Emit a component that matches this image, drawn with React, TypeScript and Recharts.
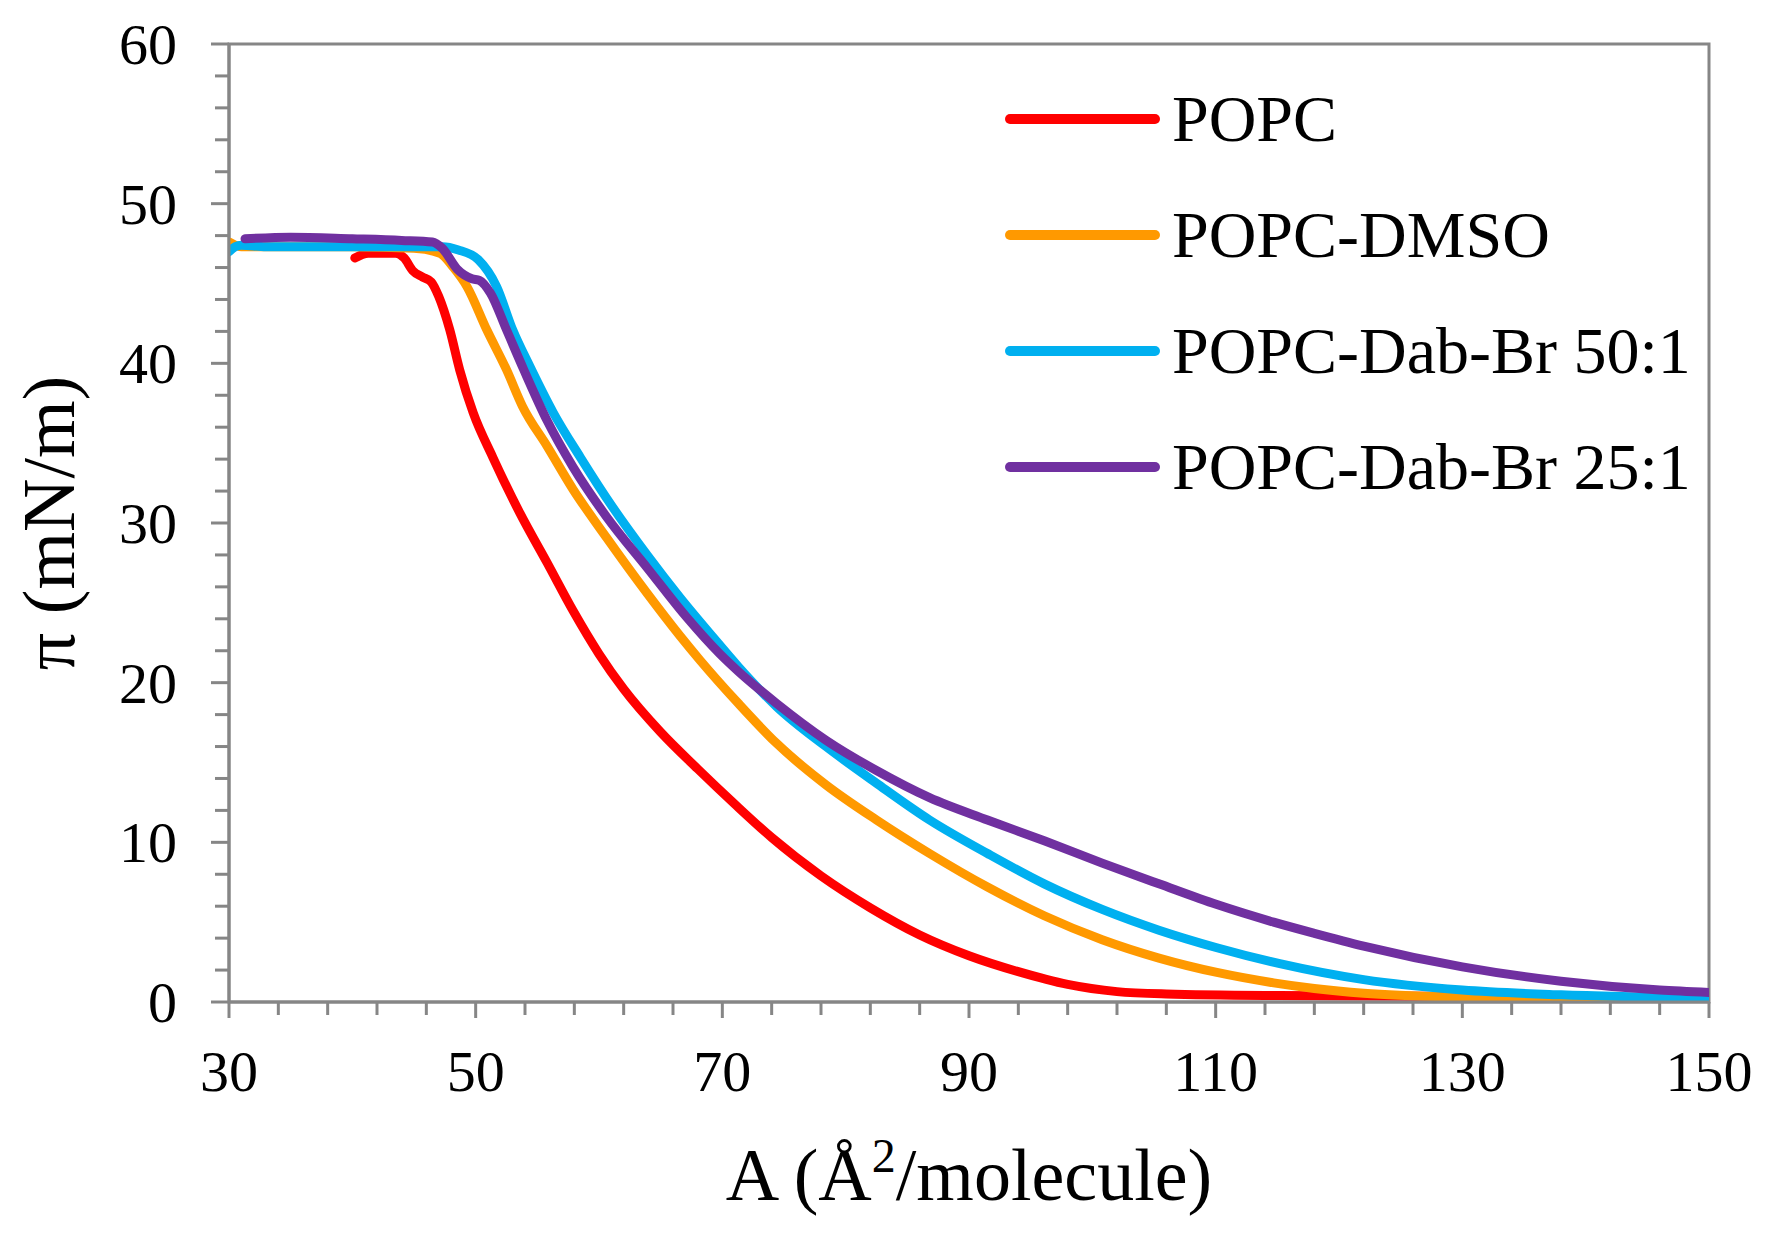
import React from 'react';
import { LineChart, Line, XAxis, YAxis, Legend, ReferenceArea, Label } from 'recharts';

// ---- data ----
const popcA = [40.2, 41.3, 43.5, 44.2, 44.9, 45.7, 46.4, 47.0, 47.9, 48.7, 49.8, 51.4, 53.6, 55.8, 57.9, 60.0, 62.0, 65.0, 68.0, 71.0, 74.0, 78.0, 82.0, 86.0, 90.0, 94.0, 98.0, 102.0, 106.0, 115.0, 130.0, 150.0];
const popcPi = [46.6, 46.9, 46.9, 46.6, 45.8, 45.4, 45.1, 44.2, 42.1, 39.6, 36.9, 34.1, 30.6, 27.5, 24.5, 21.8, 19.6, 16.9, 14.6, 12.4, 10.3, 7.9, 5.9, 4.2, 2.9, 1.9, 1.1, 0.65, 0.5, 0.4, 0.35, 0.25];

const dmsoA = [30.0, 31.0, 35.0, 40.0, 45.0, 47.1, 48.2, 49.3, 50.9, 52.5, 53.8, 55.8, 57.9, 60.6, 63.9, 66.6, 68.2, 71.3, 74.4, 78.4, 82.5, 86.8, 91.5, 96.1, 100.8, 105.4, 110.1, 114.7, 118.0, 122.0, 130.0, 140.0, 150.0];
const dmsoPi = [47.6, 47.3, 47.3, 47.3, 47.2, 46.9, 46.0, 44.8, 42.1, 39.6, 37.3, 34.8, 32.1, 29.1, 25.6, 22.9, 21.4, 18.7, 16.2, 13.6, 11.4, 9.3, 7.2, 5.4, 3.9, 2.75, 1.85, 1.2, 0.85, 0.55, 0.3, 0.2, 0.15];

const dab50A = [30.0, 30.5, 31.0, 33.0, 40.0, 45.0, 47.3, 48.6, 50.2, 51.7, 53.0, 54.4, 56.3, 58.5, 61.1, 63.9, 66.6, 69.3, 71.3, 74.4, 78.4, 82.5, 86.8, 91.5, 96.1, 100.8, 105.4, 110.1, 115.2, 122.0, 130.0, 138.0, 145.0, 150.0];
const dab50Pi = [47.0, 47.3, 47.4, 47.3, 47.3, 47.3, 47.3, 47.1, 46.5, 44.8, 42.1, 39.8, 36.9, 34.1, 31.0, 28.0, 25.3, 22.8, 21.0, 18.5, 16.0, 13.7, 11.4, 9.3, 7.4, 5.8, 4.5, 3.4, 2.4, 1.4, 0.75, 0.45, 0.3, 0.2];

const dab25A = [31.3, 35.0, 40.0, 44.0, 46.5, 47.3, 48.5, 49.7, 50.3, 51.2, 52.5, 53.9, 55.8, 57.9, 60.6, 63.9, 67.1, 69.8, 71.3, 74.4, 78.4, 82.5, 86.8, 91.5, 96.1, 100.8, 105.4, 110.1, 114.7, 118.0, 122.0, 130.0, 138.0, 146.0, 150.0];
const dab25Pi = [47.8, 47.9, 47.8, 47.7, 47.6, 47.2, 45.9, 45.3, 45.2, 44.4, 42.1, 39.6, 36.4, 33.5, 30.4, 27.2, 24.1, 21.8, 20.7, 18.7, 16.4, 14.5, 12.8, 11.4, 10.1, 8.7, 7.4, 6.1, 5.0, 4.3, 3.5, 2.2, 1.3, 0.75, 0.6];

const seriesNames = ['POPC', 'POPC-DMSO', 'POPC-Dab-Br 50:1', 'POPC-Dab-Br 25:1'];
const seriesColors = ['#FF0000', '#FF9900', '#00B0F0', '#7030A0'];

const xTicks = [30, 34, 38, 42, 46, 50, 54, 58, 62, 66, 70, 74, 78, 82, 86, 90, 94, 98, 102, 106, 110, 114, 118, 122, 126, 130, 134, 138, 142, 146, 150];
const xLabelTicks = [30, 50, 70, 90, 110, 130, 150];
const yTicks = [0, 2, 4, 6, 8, 10, 12, 14, 16, 18, 20, 22, 24, 26, 28, 30, 32, 34, 36, 38, 40, 42, 44, 46, 48, 50, 52, 54, 56, 58, 60];
const yLabelTicks = [0, 10, 20, 30, 40, 50, 60];

const toRows = (xs: number[], ys: number[]) => xs.map((a, i) => ({ a, p: ys[i] }));
const seriesData = [toRows(popcA, popcPi), toRows(dmsoA, dmsoPi), toRows(dab50A, dab50Pi), toRows(dab25A, dab25Pi)];

const AXIS = '#868686';
const FONT = '"Liberation Serif", "Times New Roman", serif';

const XTick = (props: any) => {
  const { x, y, payload } = props;
  const v = payload.value;
  const major = xLabelTicks.includes(v);
  return (
    <g>
      <line x1={x} x2={x} y1={y} y2={y + (major ? 16 : 13)} stroke={AXIS} strokeWidth={3} />
      {major && (
        <text x={x} y={y + 89} textAnchor="middle" fontSize={58} fontFamily={FONT} fill="#000">
          {v}
        </text>
      )}
    </g>
  );
};

const YTick = (props: any) => {
  const { x, y, payload } = props;
  const v = payload.value;
  const major = yLabelTicks.includes(v);
  return (
    <g>
      <line x1={x - (major ? 18 : 14)} x2={x} y1={y} y2={y} stroke={AXIS} strokeWidth={3} />
      {major && (
        <text x={x - 52} y={y + 20} textAnchor="end" fontSize={58} fontFamily={FONT} fill="#000">
          {v}
        </text>
      )}
    </g>
  );
};

const XTitle = (props: any) => {
  const { viewBox } = props;
  const cx = viewBox.x + viewBox.width / 2;
  const by = viewBox.y + 198;
  return (
    <text x={cx} y={by} textAnchor="middle" fontSize={74} fontFamily={FONT} fill="#000">
      <tspan>A (Å</tspan>
      <tspan fontSize={48} dy={-28}>2</tspan>
      <tspan dy={28}>/molecule)</tspan>
    </text>
  );
};

const YTitle = (props: any) => {
  const { viewBox } = props;
  const cx = viewBox.x + 74;
  const cy = viewBox.y + viewBox.height / 2;
  return (
    <text x={cx} y={cy} transform={`rotate(-90, ${cx}, ${cy})`} textAnchor="middle" fontSize={74} fontFamily={FONT} fill="#000">
      π (mN/m)
    </text>
  );
};

const LegendContent = (props: any) => {
  const items = [...(props.payload || [])].sort(
    (p: any, q: any) => seriesNames.indexOf(p.value) - seriesNames.indexOf(q.value)
  );
  return (
    <div>
      {items.map((item: any) => (
        <div key={item.value} style={{ display: 'flex', alignItems: 'center', height: 116 }}>
          <svg width={165} height={20} style={{ display: 'block' }}>
            <line x1={10} x2={155} y1={10} y2={10} stroke={item.color} strokeWidth={10} strokeLinecap="round" />
          </svg>
          <span style={{ marginLeft: 7, fontFamily: FONT, fontSize: 66, lineHeight: '66px', color: '#000', whiteSpace: 'nowrap' }}>
            {item.value}
          </span>
        </div>
      ))}
    </div>
  );
};

export default function App() {
  return (
    <div style={{ position: 'absolute', left: 0, top: 0, background: '#fff' }}>
      <LineChart width={1772} height={1238} margin={{ top: 44, right: 63, left: 0, bottom: 0 }}>
        <XAxis
          dataKey="a"
          type="number"
          domain={[30, 150]}
          ticks={xTicks}
          interval={0}
          tickSize={0}
          tickMargin={0}
          tickLine={false}
          tick={<XTick />}
          axisLine={{ stroke: AXIS, strokeWidth: 3 }}
          height={236}
          allowDataOverflow
        >
          <Label content={<XTitle />} />
        </XAxis>
        <YAxis
          type="number"
          domain={[0, 60]}
          ticks={yTicks}
          interval={0}
          tickSize={0}
          tickMargin={0}
          tickLine={false}
          tick={<YTick />}
          axisLine={{ stroke: AXIS, strokeWidth: 3 }}
          width={229}
          allowDataOverflow
        >
          <Label content={<YTitle />} />
        </YAxis>
        <ReferenceArea x1={30} x2={150} y1={0} y2={60} fill="none" stroke={AXIS} strokeWidth={3} fillOpacity={0} />
        {seriesData.map((d, i) => (
          <Line
            key={seriesNames[i]}
            data={d}
            dataKey="p"
            name={seriesNames[i]}
            stroke={seriesColors[i]}
            strokeWidth={9}
            dot={false}
            activeDot={false}
            type="monotone"
            strokeLinejoin="round"
            strokeLinecap="round"
            isAnimationActive={false}
          />
        ))}
        <Legend
          layout="vertical"
          align="center"
          verticalAlign="middle"
          content={<LegendContent />}
          wrapperStyle={{ left: 1000, top: 61, width: 'auto', height: 'auto' }}
        />
      </LineChart>
    </div>
  );
}
